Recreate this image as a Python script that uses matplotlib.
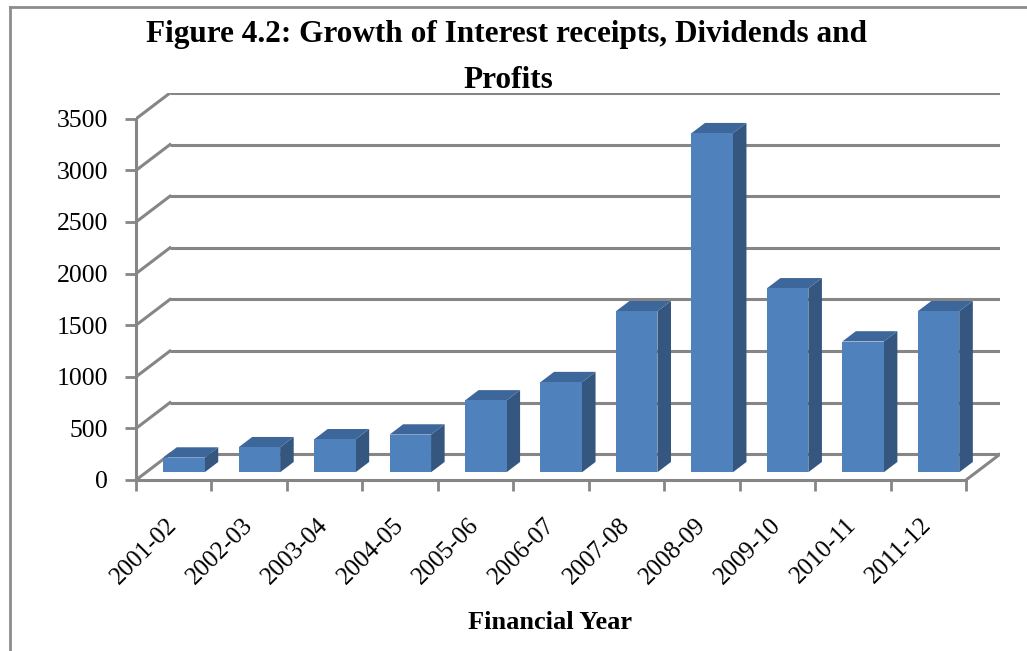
import matplotlib
matplotlib.use("Agg")
import matplotlib.pyplot as plt
from matplotlib.patches import Polygon, Rectangle
from matplotlib.lines import Line2D

# dados
anos = ["2001-02", "2002-03", "2003-04", "2004-05", "2005-06", "2006-07",
        "2007-08", "2008-09", "2009-10", "2010-11", "2011-12"]
valores = [142, 242, 319, 365, 696, 873, 1560, 3285, 1782, 1267, 1560]
yticks = [0, 500, 1000, 1500, 2000, 2500, 3000, 3500]

plt.rcParams['font.family'] = ['Liberation Serif', 'DejaVu Serif']

# perspectiva (falso 3D): deslocamento da parede de fundo
DX = 0.45      # em unidades de categoria
DY = 250       # em unidades de valor
larg = 0.55    # largura da barra
d0, d1 = 0.3, 0.7   # profundidade da barra

cinza = '#868686'
frente = '#4F81BD'
lado = '#34567F'
topo = '#3D679A'

fig = plt.figure(figsize=(10.27, 6.51), dpi=100)
ax = fig.add_axes([136/1027, (651-480)/651, 864/1027, 387/651])
ax.set_xlim(0, len(anos) + DX)
ax.set_ylim(0, 3500 + DY)
n = len(anos)

# grelha: parede de fundo e parede lateral
for v in yticks:
    ax.plot([DX, n + DX], [v + DY, v + DY], color=cinza, lw=2.2, zorder=1, solid_capstyle='butt')
    ax.plot([0, DX], [v, v + DY], color=cinza, lw=2.2, zorder=1)
# chao
ax.plot([n, n + DX], [0, DY], color=cinza, lw=2.2, zorder=1)

# barras
for i, v in enumerate(valores):
    xl = i + 0.5 - larg/2 + DX*d0
    xr = xl + larg
    y0 = DY*d0
    ddx = DX*(d1 - d0)
    ddy = DY*(d1 - d0)
    ax.add_patch(Polygon([(xr, y0), (xr, y0 + v), (xr + ddx, y0 + v + ddy), (xr + ddx, y0 + ddy)],
                         closed=True, facecolor=lado, edgecolor='none', zorder=3))
    ax.add_patch(Polygon([(xl, y0 + v), (xr, y0 + v), (xr + ddx, y0 + v + ddy), (xl + ddx, y0 + v + ddy)],
                         closed=True, facecolor=topo, edgecolor='none', zorder=3))
    ax.add_patch(Rectangle((xl, y0), larg, v, facecolor=frente, edgecolor='none', zorder=4))

# eixos
for s in ['top', 'right']:
    ax.spines[s].set_visible(False)
ax.spines['left'].set_bounds(0, 3500)
ax.spines['bottom'].set_bounds(0, n)
for s in ['left', 'bottom']:
    ax.spines[s].set_color(cinza)
    ax.spines[s].set_linewidth(2.2)
    ax.spines[s].set_zorder(2)

ax.set_yticks(yticks)
ax.set_yticklabels([str(t) for t in yticks], fontsize=18.5)
ax.tick_params(axis='y', length=8, width=2, color=cinza, pad=12)

ax.set_xticks(range(n + 1))
ax.set_xticklabels([])
ax.tick_params(axis='x', which='major', length=8, width=2, color=cinza)
ax.set_xticks([i + 0.5 for i in range(n)], minor=True)
ax.set_xticklabels(anos, minor=True, fontsize=18, rotation=45, ha='right', va='center',
                   rotation_mode='anchor')
ax.tick_params(axis='x', which='minor', length=0, pad=30)

ax.set_xlabel("Financial Year", fontsize=19, fontweight='bold')
ax.xaxis.set_label_coords((550-136)/864, -(611-480)/387)

fig.text(507/1027, 1 - 42/651, "Figure 4.2: Growth of Interest receipts, Dividends and",
         ha='center', va='baseline', fontsize=22.5, fontweight='bold')
fig.text(508/1027, 1 - 88/651, "Profits",
         ha='center', va='baseline', fontsize=22.5, fontweight='bold')

# moldura
fig.add_artist(Line2D([9.5/1027, 9.5/1027], [0, 1 - 6.5/651], color='#8c8c8c', lw=2, transform=fig.transFigure))
fig.add_artist(Line2D([9.5/1027, 1], [1 - 6.5/651, 1 - 6.5/651], color='#8c8c8c', lw=2, transform=fig.transFigure))

fig.savefig("out.png", dpi=100)
